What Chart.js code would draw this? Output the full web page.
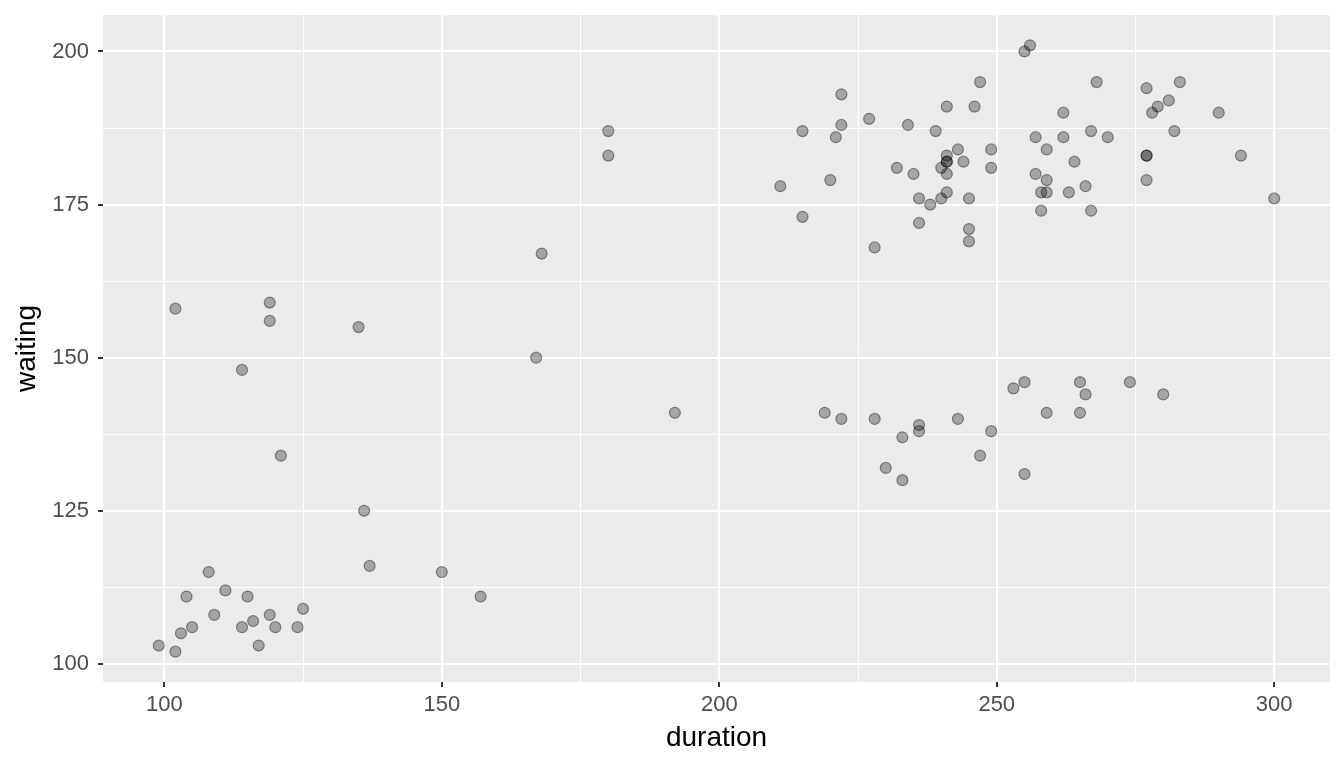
<!DOCTYPE html>
<html>
<head>
<meta charset="utf-8">
<title>waiting vs duration</title>
<script src="https://cdn.jsdelivr.net/npm/chart.js@4/dist/chart.umd.min.js"></script>
<style>
    html, body { margin: 0; padding: 0; background: #ffffff; }
    #wrap { position: relative; width: 1344px; height: 768px; }
</style>
</head>
<body>
<div id="wrap"><canvas id="chart"></canvas></div>
<script>
    // values
    var duration = [
        99, 102, 103, 104, 105, 108, 109, 111, 114, 115, 116, 117, 119, 120, 124, 125,
        102, 114, 119, 119, 121, 135, 136, 137, 150, 157, 167, 168, 180, 180, 192,
        219, 222, 228, 236, 236, 233, 230, 233, 243, 249, 247, 253, 255, 255, 259,
        265, 266, 265, 274, 280,
        256, 255, 247, 222, 241, 246, 227, 222, 215, 234, 239, 221, 243, 249, 241,
        241, 241, 244, 240, 232, 249, 241, 235, 220, 211, 241, 236, 240, 245, 238,
        215, 236, 245, 245, 228, 257, 259, 257, 259, 258, 259, 258,
        268, 262, 262, 267, 270, 264, 263, 266, 267, 277, 283, 281, 279, 278, 290,
        282, 277, 277, 294, 277, 300
    ];
    var waiting = [
        103, 102, 105, 111, 106, 115, 108, 112, 106, 111, 107, 103, 108, 106, 106, 109,
        158, 148, 159, 156, 134, 155, 125, 116, 115, 111, 150, 167, 187, 183, 141,
        141, 140, 140, 139, 138, 137, 132, 130, 140, 138, 134, 145, 146, 131, 141,
        146, 144, 141, 146, 144,
        201, 200, 195, 193, 191, 191, 189, 188, 187, 188, 187, 186, 184, 184, 183,
        182, 182, 182, 181, 181, 181, 180, 180, 179, 178, 177, 176, 176, 176, 175,
        173, 172, 171, 169, 168, 186, 184, 180, 179, 177, 177, 174,
        195, 190, 186, 187, 186, 182, 177, 178, 174, 194, 195, 192, 191, 190, 190,
        187, 183, 183, 183, 179, 176
    ];

    var xMajorTicks = [100, 150, 200, 250, 300];
    var xMinorTicks = [125, 175, 225, 275];
    var yMajorTicks = [100, 125, 150, 175, 200];
    var yMinorTicks = [112.5, 137.5, 162.5, 187.5];

    var xTitle = 'duration';
    var yTitle = 'waiting';

    var points = duration.map(function (d, i) {
        return { x: d, y: waiting[i] };
    });

    function buildTicks(majors, minors) {
        return majors.concat(minors).sort(function (a, b) { return a - b; })
            .map(function (v) { return { value: v }; });
    }

    function isMajor(list, v) {
        return list.indexOf(v) !== -1;
    }

    // no label overhang padding, the panel edges are fixed by the layout padding
    function noOverhang(scale) {
        scale.paddingTop = 0;
        scale.paddingBottom = 0;
        scale.paddingLeft = 0;
        scale.paddingRight = 0;
    }

    var panelBackground = {
        id: 'panelBackground',
        beforeDraw: function (chart) {
            var a = chart.chartArea;
            var ctx = chart.ctx;
            ctx.save();
            ctx.fillStyle = '#ebebeb';
            ctx.fillRect(a.left, a.top, a.right - a.left, a.bottom - a.top);
            ctx.restore();
        }
    };

    var tickFont = { family: 'Liberation Sans', size: 22, lineHeight: 1.2 };
    var titleFont = { family: 'Liberation Sans', size: 28, lineHeight: 1.2 };

    new Chart(document.getElementById('chart'), {
        type: 'scatter',
        data: {
            datasets: [{
                data: points,
                pointRadius: 5.5,
                pointHoverRadius: 5.5,
                borderWidth: 1.2,
                backgroundColor: 'rgba(0, 0, 0, 0.3)',
                borderColor: 'rgba(0, 0, 0, 0.4)'
            }]
        },
        options: {
            responsive: true,
            maintainAspectRatio: false,
            animation: false,
            events: [],
            layout: { padding: { top: 15, right: 14, left: 0, bottom: 0 } },
            plugins: {
                legend: { display: false },
                tooltip: { enabled: false }
            },
            scales: {
                x: {
                    type: 'linear',
                    min: 88.95,
                    max: 310.05,
                    afterBuildTicks: function (scale) {
                        scale.ticks = buildTicks(xMajorTicks, xMinorTicks);
                    },
                    afterFit: function (scale) {
                        scale.height = 86;
                        noOverhang(scale);
                    },
                    border: { display: false },
                    grid: {
                        color: '#ffffff',
                        lineWidth: function (c) { return isMajor(xMajorTicks, c.tick.value) ? 2 : 1; },
                        tickColor: function (c) { return isMajor(xMajorTicks, c.tick.value) ? '#333333' : 'rgba(0,0,0,0)'; },
                        tickWidth: 2,
                        tickLength: 5
                    },
                    ticks: {
                        autoSkip: false,
                        maxRotation: 0,
                        padding: 5,
                        color: '#4d4d4d',
                        font: tickFont,
                        callback: function (v) { return isMajor(xMajorTicks, v) ? String(v) : ''; }
                    },
                    title: {
                        display: true,
                        text: xTitle,
                        color: '#000000',
                        font: titleFont,
                        padding: { top: 0, bottom: 13 }
                    }
                },
                y: {
                    type: 'linear',
                    min: 97.05,
                    max: 205.95,
                    afterBuildTicks: function (scale) {
                        scale.ticks = buildTicks(yMajorTicks, yMinorTicks);
                    },
                    afterFit: function (scale) {
                        scale.width = 103;
                        noOverhang(scale);
                    },
                    border: { display: false },
                    grid: {
                        color: '#ffffff',
                        lineWidth: function (c) { return isMajor(yMajorTicks, c.tick.value) ? 2 : 1; },
                        tickColor: function (c) { return isMajor(yMajorTicks, c.tick.value) ? '#333333' : 'rgba(0,0,0,0)'; },
                        tickWidth: 2,
                        tickLength: 5
                    },
                    ticks: {
                        autoSkip: false,
                        padding: 9,
                        color: '#4d4d4d',
                        font: tickFont,
                        callback: function (v) { return isMajor(yMajorTicks, v) ? String(v) : ''; }
                    },
                    title: {
                        display: true,
                        text: yTitle,
                        color: '#000000',
                        font: titleFont,
                        padding: { top: 10, bottom: 0 }
                    }
                }
            }
        },
        plugins: [panelBackground]
    });
</script>
</body>
</html>
